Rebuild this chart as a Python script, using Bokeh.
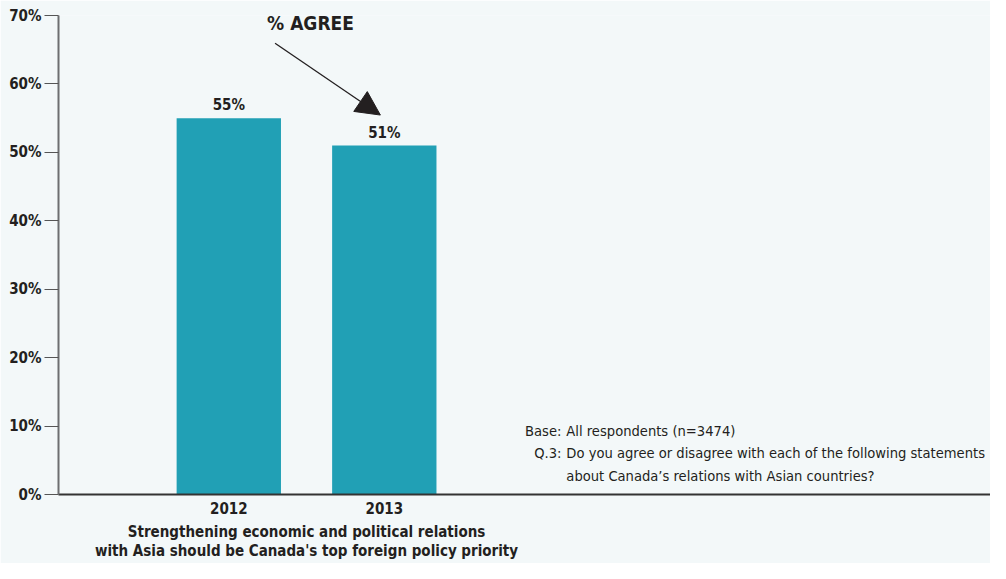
from bokeh.plotting import figure
from bokeh.models import Range1d, Label, LabelSet, ColumnDataSource, Arrow, NormalHead, FixedTicker, LinearAxis
from bokeh.core.properties import value
from bokeh.embed import file_html
from bokeh.resources import INLINE

# ---- data ----
years = ["2012", "2013"]
agree = [55, 51]
y_ticks = [0, 10, 20, 30, 40, 50, 60, 70]
y_tick_labels = ["0%", "10%", "20%", "30%", "40%", "50%", "60%", "70%"]
category_lines = ["Strengthening economic and political relations",
                  "with Asia should be Canada's top foreign policy priority"]
note_keys = ["Base:", "Q.3:", ""]
note_texts = ["All respondents (n=3474)",
              "Do you agree or disagree with each of the following statements",
              "about Canada\u2019s relations with Asian countries?"]
annotation = "% AGREE"

# ---- style ----
BG = "#f3f8f9"
BAR = "#21a0b5"
TXT = "#231f20"
FONT = "DejaVu Sans Condensed, Roboto Condensed, Roboto"

W, H = 990, 563
SX, SY = W / 1006, H / 579
LEFT, TOP, BOTTOM = 58, 15, 68
FRAME_W = W - LEFT
FRAME_H = H - TOP - BOTTOM
UNIT = 155.5
X_START = -170.3 / UNIT
X_END = X_START + FRAME_W / UNIT


def fx(rx):
    return (rx * SX - LEFT) / UNIT + X_START


def fy(ry):
    return (H - BOTTOM - ry * SY) / FRAME_H * 70


xs = list(range(len(years)))
src = ColumnDataSource(dict(x=xs, top=agree, lab=[f"{v}%" for v in agree]))

p = figure(width=W, height=H, output_backend="svg", toolbar_location=None,
           x_range=Range1d(X_START, X_END), y_range=Range1d(0, 70),
           min_border_left=LEFT, min_border_top=TOP, min_border_bottom=BOTTOM,
           min_border_right=0)
p.background_fill_color = BG
p.border_fill_color = BG
p.outline_line_color = None
p.grid.visible = False

p.vbar(x="x", top="top", width=0.671, bottom=0, source=src, color=BAR, line_color=None)

labels = LabelSet(x="x", y="top", text="lab", source=src, y_offset=8,
                  text_align="center", text_baseline="alphabetic",
                  text_font=value(FONT), text_font_style="bold",
                  text_font_size="15px", text_color=TXT)
p.add_layout(labels)

# y axis
ya = p.yaxis[0]
ya.ticker = FixedTicker(ticks=y_ticks)
ya.major_label_overrides = {t: l for t, l in zip(y_ticks, y_tick_labels)}
ya.major_label_text_font = FONT
ya.major_label_text_font_style = "bold"
ya.major_label_text_font_size = "15px"
ya.major_label_text_color = TXT
ya.major_tick_out = 14
ya.major_tick_in = 0
ya.minor_tick_out = 0
ya.minor_tick_in = 0
ya.major_tick_line_color = "#555555"
ya.major_tick_line_width = 1.2
ya.axis_line_color = "#6d6e71"
ya.axis_line_width = 2
ya.major_label_standoff = 3

# x axis (years)
xa = p.xaxis[0]
xa.ticker = FixedTicker(ticks=xs)
xa.major_label_overrides = {i: y for i, y in zip(xs, years)}
xa.major_label_text_font = FONT
xa.major_label_text_font_style = "bold"
xa.major_label_text_font_size = "15px"
xa.major_label_text_color = TXT
xa.major_tick_out = 0
xa.major_tick_in = 0
xa.minor_tick_out = 0
xa.minor_tick_in = 0
xa.axis_line_color = "#333333"
xa.axis_line_width = 2
xa.major_label_standoff = 7

# second x axis carrying the category description
cx = sum(xs) / len(xs)
xa2 = LinearAxis(ticker=FixedTicker(ticks=[cx]),
                 major_label_overrides={cx: "\n".join(category_lines)})
xa2.major_label_text_font = FONT
xa2.major_label_text_font_style = "bold"
xa2.major_label_text_font_size = "15px"
xa2.major_label_text_color = TXT
xa2.major_label_text_line_height = 1.1
xa2.axis_line_color = None
xa2.major_tick_out = 0
xa2.major_tick_in = 0
xa2.minor_tick_out = 0
xa2.minor_tick_in = 0
xa2.major_label_standoff = 6
p.add_layout(xa2, "below")

# notes
for i, (k, t) in enumerate(zip(note_keys, note_texts)):
    yy = fy(443 + 23 * i)
    if k:
        p.add_layout(Label(x=fx(570), y=yy, text=k, text_align="right",
                           text_baseline="middle", text_font=FONT,
                           text_font_size="14.6px", text_color=TXT))
    p.add_layout(Label(x=fx(575), y=yy, text=t, text_align="left",
                       text_baseline="middle", text_font=FONT,
                       text_font_size="14.6px", text_color=TXT))

# % AGREE annotation with arrow
p.add_layout(Label(x=fx(315), y=fy(23), text=annotation, text_align="center",
                   text_baseline="middle", text_font=FONT, text_font_style="bold",
                   text_font_size="19px", text_color=TXT))
p.add_layout(Arrow(x_start=fx(279), y_start=fy(44), x_end=fx(386), y_end=fy(118),
                   line_color=TXT, line_width=1.3,
                   end=NormalHead(size=24, fill_color=TXT, line_color=TXT)))

open("out.html", "w").write(file_html(p, INLINE))
